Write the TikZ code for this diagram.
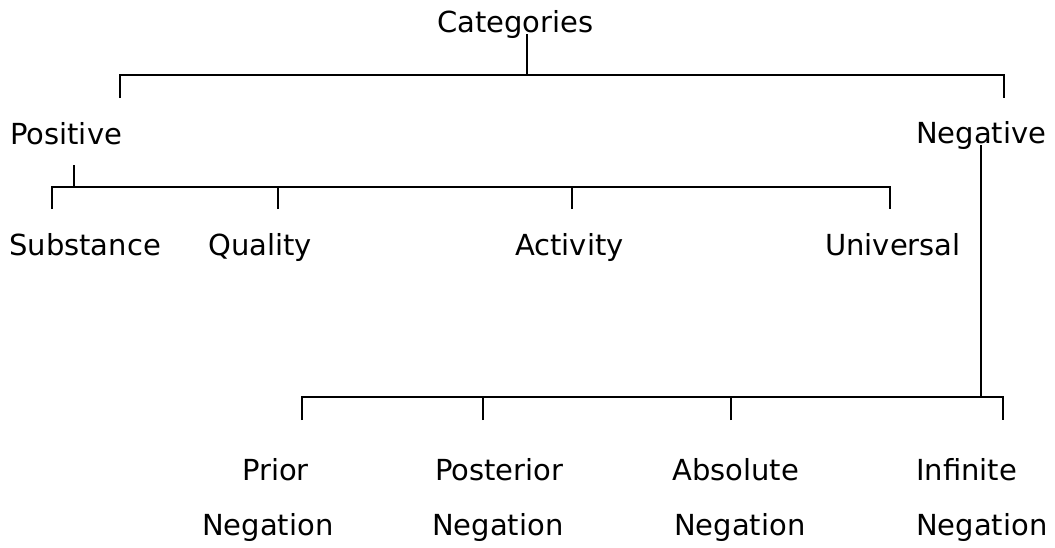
\documentclass[tikz,border=0pt]{standalone}
\usepackage{fontspec}
\setmainfont{DejaVu Sans}
\begin{document}
\begin{tikzpicture}[x=1pt,y=-1pt,
  lbl/.style={anchor=base west, inner sep=0pt, font=\fontsize{29}{34}\selectfont},
  conn/.style={line width=1.2pt, black}]
\useasboundingbox[fill=white] (0,0) rectangle (1055,547);
% labels
\node[lbl] (cat) at (437,32) {Categories};
\node[lbl] (pos) at (10,144) {Positive};
\node[lbl] (neg) at (916,143) {Negative};
\node[lbl] (sub) at (9,255) {Substance};
\node[lbl] (qual) at (208,255) {Quality};
\node[lbl] (act) at (515,255) {Activity};
\node[lbl] (uni) at (825,255) {Universal};
\node[lbl] (pri1) at (242,480) {Prior};
\node[lbl] (pri2) at (202,535) {Negation};
\node[lbl] (post1) at (435,480) {Posterior};
\node[lbl] (post2) at (432,535) {Negation};
\node[lbl] (abs1) at (672,480) {Absolute};
\node[lbl] (abs2) at (674,535) {Negation};
\node[lbl] (inf1) at (916,480) {Infinite};
\node[lbl] (inf2) at (916,535) {Negation};
% junction coordinates
\coordinate (catS) at (527,34);
\coordinate (catJ) at (527,75);
\coordinate (posT) at (120,98);
\coordinate (negT) at (1004,98);
\coordinate (posS) at (74,165);
\coordinate (posJ) at (74,187);
\coordinate (subT) at (52,209);
\coordinate (qualT) at (278,209);
\coordinate (actT) at (572,209);
\coordinate (uniT) at (890,209);
\coordinate (negS) at (981,145);
\coordinate (negJ) at (981,397);
\coordinate (priT) at (302,420);
\coordinate (postT) at (483,420);
\coordinate (absT) at (731,420);
\coordinate (infT) at (1003,420);
% connectors
\draw[conn] (catS) -- (catJ);
\draw[conn] (posT) |- (catJ) -| (negT);
\draw[conn] (posS) -- (posJ);
\draw[conn] (subT) |- (posJ) -| (uniT);
\draw[conn] (qualT) -- (qualT |- posJ);
\draw[conn] (actT) -- (actT |- posJ);
\draw[conn] (negS) -- (negJ);
\draw[conn] (priT) |- (negJ) -| (infT);
\draw[conn] (postT) -- (postT |- negJ);
\draw[conn] (absT) -- (absT |- negJ);
\end{tikzpicture}
\end{document}
